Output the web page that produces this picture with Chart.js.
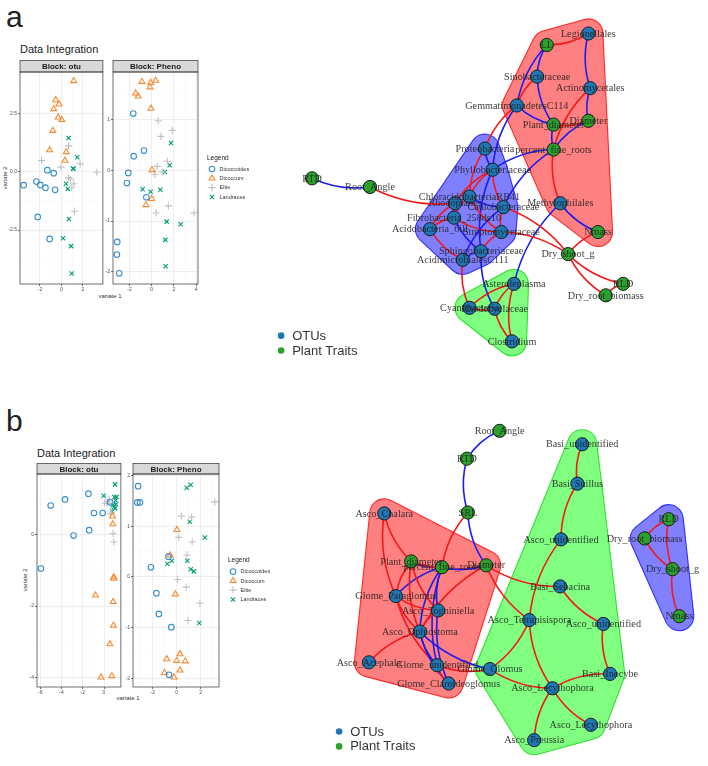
<!DOCTYPE html>
<html>
<head>
<meta charset="utf-8">
<script src="https://cdn.jsdelivr.net/npm/chart.js@4.4.1/dist/chart.umd.min.js"></script>
<style>
body { margin: 0; background: #fff; }
#page { position: relative; width: 708px; height: 766px; overflow: hidden; font-family: "Liberation Sans", Arial, sans-serif; }
canvas { position: absolute; }
.txt { position: absolute; white-space: nowrap; color: #222; line-height: 1; }
.c { transform: translate(-50%, -50%); }
.rot { transform: translate(-50%, -50%) rotate(-90deg); }
</style>
</head>
<body>
<div id="page">
  <div class="txt" style="left:6px;top:2px;font-size:30px;">a</div>
  <div class="txt" style="left:6px;top:406px;font-size:30px;">b</div>

  <div class="txt" style="left:20px;top:44px;font-size:11px;color:#1a1a1a;">Data Integration</div>
  <div class="txt c" style="left:110px;top:296px;font-size:6px;color:#333;">variate 1</div>
  <div class="txt rot" style="left:5px;top:178px;font-size:6px;color:#333;">variate 2</div>

  <div class="txt" style="left:37px;top:448px;font-size:11px;color:#1a1a1a;">Data Integration</div>
  <div class="txt c" style="left:128px;top:698px;font-size:6px;color:#333;">variate 1</div>
  <div class="txt rot" style="left:25px;top:580px;font-size:6px;color:#333;">variate 2</div>

  <canvas id="aOtu"></canvas>
  <canvas id="aPheno"></canvas>
  <canvas id="bOtu"></canvas>
  <canvas id="bPheno"></canvas>
  <canvas id="aNet"></canvas>
  <canvas id="bNet"></canvas>
</div>
<script>
// ---------- scatter data (sample plots, variate 1 / variate 2) ----------
const varieties = ['Dicoccoides', 'Dicoccum', 'Elite', 'Landraces'];

const aOtuDicoccoides = [[-3.52,-0.58],[-2.33,-0.43],[-1.97,-0.57],[-1.49,-0.69],[-1.31,0.06],[-0.72,-0.07],[-0.59,-0.78],[-2.21,-1.94],[-1.10,-2.88]];
const aOtuDicoccum = [[1.14,3.88],[-0.54,3.06],[-0.23,2.88],[-0.72,2.68],[-0.30,2.32],[0.03,2.22],[-0.81,1.75],[-1.10,0.92],[0.45,0.84],[0.33,0.47]];
const aOtuElite = [[-1.85,0.47],[0.66,1.10],[-0.05,0.19],[1.74,0.33],[3.29,-0.03],[0.66,-0.27],[0.84,-0.32],[1.14,-0.52],[0.96,-0.69],[1.20,-1.70]];
const aOtuLandraces = [[0.66,1.44],[1.47,0.61],[1.08,0.13],[1.12,0.12],[0.42,-0.52],[0.60,-0.74],[0.69,-2.03],[0.15,-2.85],[0.90,-3.19],[0.96,-4.36]];

const aPhenoDicoccoides = [[-1.66,1.12],[-1.62,0.28],[-0.69,0.39],[-2.10,-0.05],[-2.23,-0.25],[-0.48,-0.53],[-3.10,-1.41],[-3.13,-1.66],[-2.92,-2.03]];
const aPhenoDicoccum = [[-0.87,1.75],[-0.09,1.73],[0.36,1.77],[-0.15,1.64],[-1.44,1.52],[-1.21,1.46],[-0.06,1.22],[0.03,0.01],[0.00,-0.56],[-0.51,-0.68]];
const aPhenoElite = [[0.59,0.98],[1.86,0.79],[0.84,0.67],[1.41,0.18],[0.50,0.08],[0.95,-0.03],[0.30,-0.08],[1.50,-0.70],[0.41,-0.84],[3.81,-0.84]];
const aPhenoLandraces = [[1.74,0.54],[1.62,0.10],[1.20,-0.03],[-0.81,-0.37],[-0.09,-0.42],[0.78,-0.38],[1.35,-1.01],[2.61,-1.06],[1.23,-1.37],[1.26,-1.89]];

const bOtuDicoccoides = [[-5.94,-0.95],[-5.02,0.81],[-3.67,0.98],[-1.47,1.14],[-0.95,0.60],[-0.12,0.60],[-1.40,0.12],[-2.87,-0.03],[0.58,0.90]];
const bOtuDicoccum = [[0.80,0.51],[0.83,0.29],[0.92,-1.19],[0.90,-1.23],[-0.80,-1.70],[0.86,-1.88],[0.89,-2.54],[0.55,-3.06],[0.73,-3.95],[-0.28,-3.99]];
const bOtuElite = [[0.06,0.88],[0.28,0.87],[0.49,0.98],[0.61,0.57],[0.85,0.03],[0.92,-0.21],[0.67,0.63],[0.40,0.92]];
const bOtuLandraces = [[1.04,1.40],[-0.03,1.08],[0.98,1.05],[1.19,1.05],[0.83,0.82],[1.13,0.85],[1.04,0.73],[0.76,0.65],[0.94,0.77],[1.10,0.95]];

const bPhenoDicoccoides = [[-3.22,1.79],[-3.28,1.47],[-3.06,1.47],[-0.69,0.40],[-2.15,0.19],[-1.69,-0.32],[-1.49,-0.73],[-0.45,-0.99],[-0.64,-1.93]];
const bPhenoDicoccum = [[0.02,0.93],[-0.55,0.43],[-0.11,-0.34],[0.27,-1.52],[-0.83,-1.62],[0.00,-1.65],[0.71,-1.66],[0.27,-1.84],[-1.02,-1.89],[-0.22,-1.98]];
const bPhenoElite = [[3.17,1.48],[0.38,1.20],[1.24,1.18],[0.17,0.78],[1.29,0.69],[0.85,0.43],[0.08,-0.05],[0.79,-0.20],[1.93,-0.52],[0.93,-0.86]];
const bPhenoLandraces = [[0.83,1.76],[1.16,1.82],[1.10,1.09],[2.34,0.78],[0.88,0.32],[-0.41,0.32],[-0.78,0.26],[1.16,0.15],[1.43,0.11],[1.87,-0.91]];

// tick labels and axis limits of each facet
const aOtuXTicks = [-2, 0, 2],      aOtuYTicks = [-2.5, 0, 2.5];
const aPhenoXTicks = [-2, 0, 2, 4], aPhenoYTicks = [-2, -1, 0, 1];
const bOtuXTicks = [-6, -4, -2, 0], bOtuYTicks = [-4, -2, 0];
const bPhenoXTicks = [-2, 0, 2],    bPhenoYTicks = [-2, -1, 0, 1, 2];
const aOtuXRange = [-3.86, 3.86],   aOtuYRange = [-4.81, 4.26];
const aPhenoXRange = [-3.48, 4.17], aPhenoYRange = [-2.24, 1.94];
const bOtuXRange = [-6.31, 1.59],   bOtuYRange = [-4.26, 1.69];
const bPhenoXRange = [-3.64, 3.52], bPhenoYRange = [-2.17, 2.03];

// ---------- network data (layout positions, edges, clusters) ----------
const aNodeName = ['RTD','Root_Angle','Legionellales','LL','Sinobacteraceae','Actinomycetales','GemmatimonadetesC114','Plant_diameter','Diameter','percent_fine_roots','Proteobacteria','Phyllobacteriaceae','ChloracidobacteriaRB41','Rhodoplanes','Caulobacteraceae','Fibrobacteria_258ds10','Acidobacteria_6ill','Streptomycetaceae','Sphingobacteriaceae','AcidimicrobialesC111','Methylophilales','Nmass','Dry_shoot_g','RLD','Dry_root_biomass','Asteroleplasma','Cyanobacteria','Rhodocyclaceae','Clostridium'];
const aNodeX = [306,366,592,549,539,594,518,556,592,556,485,493,469,454,504,453,428,502,481,462,563,602,571,628,610,515,469,495,513];
const aNodeY = [178,187,27,39,72,84,102,122,118,148,147,169,197,204,208,219,231,234,254,263,204,234,257,288,300,288,313,314,348];
const aNodeIsOtu = [0,0,1,0,1,1,1,0,0,0,1,1,1,1,1,1,1,1,1,1,1,0,0,0,0,1,1,1,1];
const aEdges = [
  ['RTD','Root_Angle',-1],['Root_Angle','Rhodoplanes',1],['LL','Legionellales',1],['LL','Sinobacteraceae',-1],
  ['LL','GemmatimonadetesC114',-1],['Sinobacteraceae','GemmatimonadetesC114',1],['Sinobacteraceae','Plant_diameter',-1],
  ['Legionellales','Actinomycetales',-1],['Actinomycetales','Diameter',-1],['Actinomycetales','percent_fine_roots',1],
  ['GemmatimonadetesC114','Plant_diameter',-1],['GemmatimonadetesC114','Proteobacteria',1],['GemmatimonadetesC114','Phyllobacteriaceae',-1],
  ['Plant_diameter','Diameter',1],['Plant_diameter','percent_fine_roots',-1],['Diameter','percent_fine_roots',-1],
  ['percent_fine_roots','Phyllobacteriaceae',-1],['percent_fine_roots','Caulobacteraceae',-1],['percent_fine_roots','Methylophilales',1],
  ['Methylophilales','Nmass',-1],['Methylophilales','Asteroleplasma',-1],['Nmass','Dry_shoot_g',1],['Dry_shoot_g','RLD',1],
  ['Dry_shoot_g','Dry_root_biomass',1],['RLD','Dry_root_biomass',1],['Dry_shoot_g','Streptomycetaceae',1],['Dry_shoot_g','Caulobacteraceae',1],
  ['Proteobacteria','Phyllobacteriaceae',-1],['Proteobacteria','ChloracidobacteriaRB41',1],['Phyllobacteriaceae','ChloracidobacteriaRB41',1],
  ['Phyllobacteriaceae','Caulobacteraceae',1],['Phyllobacteriaceae','Rhodoplanes',1],['Phyllobacteriaceae','Sphingobacteriaceae',-1],
  ['ChloracidobacteriaRB41','Caulobacteraceae',-1],['ChloracidobacteriaRB41','Fibrobacteria_258ds10',1],['ChloracidobacteriaRB41','Streptomycetaceae',1],
  ['Rhodoplanes','Fibrobacteria_258ds10',1],['Rhodoplanes','Acidobacteria_6ill',1],['Fibrobacteria_258ds10','Acidobacteria_6ill',1],
  ['Fibrobacteria_258ds10','Streptomycetaceae',1],['Fibrobacteria_258ds10','Sphingobacteriaceae',-1],['Acidobacteria_6ill','AcidimicrobialesC111',1],
  ['Caulobacteraceae','Streptomycetaceae',1],['Caulobacteraceae','AcidimicrobialesC111',-1],['Streptomycetaceae','Sphingobacteriaceae',1],
  ['Sphingobacteriaceae','AcidimicrobialesC111',-1],['Sphingobacteriaceae','Rhodocyclaceae',-1],['AcidimicrobialesC111','Cyanobacteria',1],
  ['Asteroleplasma','Cyanobacteria',1],['Asteroleplasma','Rhodocyclaceae',1],['Asteroleplasma','Clostridium',1],
  ['Cyanobacteria','Rhodocyclaceae',1],['Rhodocyclaceae','Clostridium',1]
];
const aClusterRed = ['Legionellales','LL','Sinobacteraceae','Actinomycetales','GemmatimonadetesC114','Plant_diameter','Diameter','percent_fine_roots','Methylophilales','Nmass'];
const aClusterBlue = ['Proteobacteria','Phyllobacteriaceae','ChloracidobacteriaRB41','Rhodoplanes','Caulobacteraceae','Fibrobacteria_258ds10','Acidobacteria_6ill','Streptomycetaceae','Sphingobacteriaceae','AcidimicrobialesC111'];
const aClusterGreen = ['Asteroleplasma','Cyanobacteria','Rhodocyclaceae','Clostridium'];

const bNodeName = ['Root_Angle','RTD','SRL','Asco_Chalara','Plant_diameter','percent_fine_roots','Diameter','Basi_unidentified','Basi_Suillus','Asco_unidentified','RLD','Dry_root_biomass','Dry_shoot_g','Nmass','Basi_Sebacina','Asco_Tetrapisispora','Asco_unidentified#2','Glome_Paraglomus','Asco_Togniniella','Asco_Ophiostoma','Asco_Acephala','Glome_unidentified','Glome_Glomus','Glome_Claroideoglomus','Basi_Inocybe','Asco_Lecythophora','Asco_Lecythophora#2','Asco_Preussia'];
const bNodeX = [499,465,466,379,407,439,485,585,580,563,675,650,679,686,562,530,607,391,435,416,363,434,489,446,614,554,594,535];
const bNodeY = [425,454,510,511,561,567,565,439,480,538,517,537,569,618,587,622,626,597,612,634,666,669,673,688,678,693,731,747];
const bNodeIsOtu = [0,0,0,1,0,0,0,1,1,1,0,0,0,0,1,1,1,1,1,1,1,1,1,1,1,1,1,1];
const bEdges = [
  ['Root_Angle','RTD',-1],['RTD','SRL',-1],['SRL','Diameter',-1],['SRL','percent_fine_roots',1],['Asco_Chalara','Plant_diameter',1],
  ['Plant_diameter','percent_fine_roots',-1],['Plant_diameter','Diameter',1],['percent_fine_roots','Diameter',-1],
  ['Diameter','Basi_Sebacina',1],['Diameter','Asco_Tetrapisispora',1],['Diameter','Asco_Ophiostoma',1],['Plant_diameter','Glome_Paraglomus',1],
  ['percent_fine_roots','Glome_Paraglomus',-1],['percent_fine_roots','Asco_Ophiostoma',-1],['percent_fine_roots','Asco_Togniniella',-1],
  ['percent_fine_roots','Glome_unidentified',-1],['Plant_diameter','Asco_Togniniella',1],['Plant_diameter','Asco_Ophiostoma',1],
  ['Glome_Paraglomus','Asco_Togniniella',1],['Glome_Paraglomus','Asco_Ophiostoma',1],['Glome_Paraglomus','Glome_unidentified',1],
  ['Asco_Togniniella','Glome_Claroideoglomus',-1],['Asco_Togniniella','Asco_Ophiostoma',1],['Asco_Ophiostoma','Glome_unidentified',-1],
  ['Asco_Ophiostoma','Glome_Claroideoglomus',-1],['Asco_Ophiostoma','Glome_Glomus',-1],['Asco_Ophiostoma','Asco_Acephala',1],
  ['Glome_unidentified','Glome_Claroideoglomus',1],['Glome_unidentified','Glome_Glomus',1],['Glome_Glomus','Asco_Tetrapisispora',1],
  ['Glome_Glomus','Asco_Lecythophora',1],['Asco_unidentified','Asco_Tetrapisispora',1],['Asco_Tetrapisispora','Asco_Lecythophora',1],
  ['Basi_Sebacina','Asco_unidentified#2',1],['Asco_unidentified#2','Basi_Inocybe',1],['Basi_Inocybe','Asco_Lecythophora',1],
  ['Asco_Lecythophora','Asco_Lecythophora#2',1],['Asco_Lecythophora','Asco_Preussia',1],['Basi_unidentified','Basi_Suillus',1],
  ['Basi_Suillus','Asco_unidentified',1],['RLD','Dry_root_biomass',1],['RLD','Dry_shoot_g',1],['Dry_root_biomass','Dry_shoot_g',1],
  ['Dry_shoot_g','Nmass',1],['Asco_Chalara','Glome_Paraglomus',1]
];
const bClusterRed = ['Asco_Chalara','Plant_diameter','percent_fine_roots','Diameter','Glome_Paraglomus','Asco_Togniniella','Asco_Ophiostoma','Asco_Acephala','Glome_unidentified','Glome_Claroideoglomus'];
const bClusterGreen = ['Basi_unidentified','Basi_Suillus','Asco_unidentified','Basi_Sebacina','Asco_Tetrapisispora','Asco_unidentified#2','Glome_Glomus','Basi_Inocybe','Asco_Lecythophora','Asco_Lecythophora#2','Asco_Preussia'];
const bClusterBlue = ['RLD','Dry_root_biomass','Dry_shoot_g','Nmass'];

// ---------- styles ----------
const SANS = '"Liberation Sans", Arial, sans-serif';
const SERIF = '"Liberation Serif", "DejaVu Serif", serif';
const varietyStyle = [
  { pointStyle: 'circle',   color: '#388ECC', radius: 2.8 },
  { pointStyle: 'triangle', color: '#F68B33', radius: 3.4 },
  { pointStyle: 'cross',    color: '#C2C2C2', radius: 3.6 },
  { pointStyle: 'crossRot', color: '#009E73', radius: 3.0 }
];

function allTicks(major, range) {
  const h = (major[1] - major[0]) / 2;
  const out = [];
  let v = major[0] - Math.floor((major[0] - range[0]) / h) * h;
  for (; v <= range[1] + 1e-9; v += h) out.push(Math.round(v * 1000) / 1000);
  return out;
}
function isMajor(v, major) {
  const step = major[1] - major[0];
  const k = (v - major[0]) / step;
  return Math.abs(k - Math.round(k)) < 1e-6;
}

// strip, panel border and legend of a facet
const facetDecor = {
  id: 'facetDecor',
  afterDraw(chart, args, opts) {
    const { ctx, chartArea: a } = chart;
    ctx.save();
    ctx.fillStyle = '#d9d9d9';
    ctx.fillRect(a.left, 0.5, a.right - a.left, a.top - 0.5);
    ctx.strokeStyle = '#333';
    ctx.lineWidth = 0.7;
    ctx.strokeRect(a.left, 0.5, a.right - a.left, a.top - 0.5);
    ctx.fillStyle = '#1a1a1a';
    ctx.font = 'bold 8px ' + SANS;
    ctx.textAlign = 'center';
    ctx.textBaseline = 'middle';
    ctx.fillText(opts.title, (a.left + a.right) / 2, a.top / 2 + 0.8);
    ctx.strokeRect(a.left, a.top, a.right - a.left, a.bottom - a.top);

    if (opts.legend) {
      const mid = (a.top + a.bottom) / 2;
      const lx = a.right + 9;
      ctx.textAlign = 'left';
      ctx.fillStyle = '#1a1a1a';
      ctx.font = '6.5px ' + SANS;
      ctx.fillText('Legend', lx, mid - 20);
      chart.data.datasets.forEach((ds, i) => {
        const y = mid - 9 + i * 9.3;
        ctx.strokeStyle = ds.borderColor;
        ctx.fillStyle = 'rgba(0,0,0,0)';
        ctx.lineWidth = 1.1;
        Chart.helpers.drawPoint(ctx, { pointStyle: ds.pointStyle, radius: ds.pointRadius, borderWidth: 1.1, rotation: 0 }, lx + 5, y);
        ctx.fillStyle = '#333';
        ctx.font = '5.5px ' + SANS;
        ctx.fillText(ds.label, lx + 12.5, y + 0.3);
      });
    }
    ctx.restore();
  }
};

function facet(id, box, title, groups, xr, yr, xt, yt, yDec, legend) {
  const cv = document.getElementById(id);
  const rightPad = legend ? 75 : 3;
  cv.width = box.r - box.l + 17 + rightPad;
  cv.height = box.b - box.st + 9;
  cv.style.left = (box.l - 17) + 'px';
  cv.style.top = box.st + 'px';

  const axis = (range, major, dec, isX) => ({
    type: 'linear',
    min: range[0],
    max: range[1],
    afterBuildTicks: s => { s.ticks = allTicks(major, range).map(v => ({ value: v })); },
    afterFit: s => {
      if (isX) s.height = 9; else s.width = 17;
      s.paddingLeft = s.paddingRight = s.paddingTop = s.paddingBottom = 0;
    },
    border: { display: false },
    grid: {
      color: c => isMajor(c.tick.value, major) ? '#e6e6e6' : '#f3f3f3',
      lineWidth: c => isMajor(c.tick.value, major) ? 0.7 : 0.4,
      tickColor: c => isMajor(c.tick.value, major) ? '#333' : 'rgba(0,0,0,0)',
      tickLength: 2,
      drawTicks: true
    },
    ticks: {
      autoSkip: false,
      maxRotation: 0,
      padding: 1,
      font: { size: 5, family: SANS },
      color: '#4d4d4d',
      callback: v => isMajor(v, major) ? v.toFixed(dec) : ''
    }
  });

  return new Chart(cv, {
    type: 'scatter',
    data: {
      datasets: groups.map((g, i) => ({
        label: varieties[i],
        data: g.map(p => ({ x: p[0], y: p[1] })),
        pointStyle: varietyStyle[i].pointStyle,
        pointRadius: varietyStyle[i].radius,
        borderColor: varietyStyle[i].color,
        backgroundColor: 'rgba(0,0,0,0)',
        borderWidth: 1.1
      }))
    },
    options: {
      responsive: false,
      animation: false,
      events: [],
      layout: { padding: { top: box.t - box.st, right: rightPad, left: 0, bottom: 0 } },
      scales: { x: axis(xr, xt, 0, true), y: axis(yr, yt, yDec, false) },
      plugins: { legend: { display: false }, tooltip: { enabled: false }, facetDecor: { title: title, legend: legend } }
    },
    plugins: [facetDecor]
  });
}

facet('aOtu',   { l: 20, r: 105, st: 60, t: 72, b: 284 }, 'Block: otu',
      [aOtuDicoccoides, aOtuDicoccum, aOtuElite, aOtuLandraces], aOtuXRange, aOtuYRange, aOtuXTicks, aOtuYTicks, 1, false);
facet('aPheno', { l: 113, r: 198, st: 60, t: 72, b: 284 }, 'Block: Pheno',
      [aPhenoDicoccoides, aPhenoDicoccum, aPhenoElite, aPhenoLandraces], aPhenoXRange, aPhenoYRange, aPhenoXTicks, aPhenoYTicks, 0, true);
facet('bOtu',   { l: 37, r: 123, st: 463, t: 474, b: 687 }, 'Block: otu',
      [bOtuDicoccoides, bOtuDicoccum, bOtuElite, bOtuLandraces], bOtuXRange, bOtuYRange, bOtuXTicks, bOtuYTicks, 0, false);
facet('bPheno', { l: 133, r: 219, st: 463, t: 474, b: 687 }, 'Block: Pheno',
      [bPhenoDicoccoides, bPhenoDicoccum, bPhenoElite, bPhenoLandraces], bPhenoXRange, bPhenoYRange, bPhenoXTicks, bPhenoYTicks, 0, true);

// ---------- network ----------
const OTU_COLOR = '#1f77b4', TRAIT_COLOR = '#2ca02c';
const clusterStyle = {
  red:   { fill: '#ff8080', line: '#ff2a2a' },
  blue:  { fill: '#8080ff', line: '#3030ff' },
  green: { fill: '#80ff80', line: '#30e030' }
};

function convexHull(pts) {
  pts = pts.slice().sort((a, b) => a[0] - b[0] || a[1] - b[1]);
  const cross = (o, a, b) => (a[0] - o[0]) * (b[1] - o[1]) - (a[1] - o[1]) * (b[0] - o[0]);
  const lo = [], up = [];
  for (const p of pts) { while (lo.length >= 2 && cross(lo[lo.length - 2], lo[lo.length - 1], p) <= 0) lo.pop(); lo.push(p); }
  for (const p of pts.slice().reverse()) { while (up.length >= 2 && cross(up[up.length - 2], up[up.length - 1], p) <= 0) up.pop(); up.push(p); }
  return lo.slice(0, -1).concat(up.slice(0, -1));
}

const netDecor = {
  id: 'netDecor',
  beforeDatasetsDraw(chart, args, opts) {
    const { ctx } = chart;
    const sx = chart.scales.x, sy = chart.scales.y;
    const pos = name => {
      const i = opts.names.indexOf(name);
      return [sx.getPixelForValue(opts.xs[i]), sy.getPixelForValue(opts.ys[i])];
    };
    ctx.save();
    // clusters
    opts.clusters.forEach(cl => {
      const h = convexHull(cl.members.map(pos));
      const st = clusterStyle[cl.color];
      ctx.beginPath();
      h.forEach((p, k) => k ? ctx.lineTo(p[0], p[1]) : ctx.moveTo(p[0], p[1]));
      ctx.closePath();
      ctx.lineJoin = 'round';
      ctx.lineCap = 'round';
      ctx.strokeStyle = st.line;
      ctx.lineWidth = 2 * opts.pad + 2.2;
      ctx.stroke();
      ctx.strokeStyle = st.fill;
      ctx.lineWidth = 2 * opts.pad;
      ctx.stroke();
      ctx.fillStyle = st.fill;
      ctx.fill();
    });
    // edges, slightly curved
    opts.edges.forEach(e => {
      const p = pos(e[0]), q = pos(e[1]);
      const dx = q[0] - p[0], dy = q[1] - p[1];
      const cx = (p[0] + q[0]) / 2 - dy * 0.15, cy = (p[1] + q[1]) / 2 + dx * 0.15;
      ctx.beginPath();
      ctx.moveTo(p[0], p[1]);
      ctx.quadraticCurveTo(cx, cy, q[0], q[1]);
      ctx.strokeStyle = e[2] > 0 ? '#f41818' : '#1c1cf0';
      ctx.lineWidth = 1.6;
      ctx.stroke();
    });
    ctx.restore();
  },
  afterDatasetsDraw(chart, args, opts) {
    const { ctx } = chart;
    const sx = chart.scales.x, sy = chart.scales.y;
    ctx.save();
    ctx.font = '10.2px ' + SERIF;
    ctx.fillStyle = 'rgba(30,30,30,0.88)';
    ctx.textAlign = 'center';
    ctx.textBaseline = 'middle';
    opts.names.forEach((n, i) => {
      ctx.fillText(n.replace(/#\d+$/, ''), sx.getPixelForValue(opts.xs[i]), sy.getPixelForValue(opts.ys[i]) + 0.5);
    });
    // legend, anchored in layout coordinates
    const lx = sx.getPixelForValue(opts.legendAt[0]);
    ctx.font = '13px ' + SANS;
    ctx.textAlign = 'left';
    chart.data.datasets.forEach((ds, i) => {
      const y = sy.getPixelForValue(opts.legendAt[1] + i * 15.5);
      ctx.beginPath();
      ctx.arc(lx, y, 3.3, 0, Math.PI * 2);
      ctx.fillStyle = ds.backgroundColor;
      ctx.fill();
      ctx.fillStyle = '#333';
      ctx.fillText(ds.label, lx + 11, y + 0.5);
    });
    ctx.restore();
  }
};

function network(id, frame, names, xs, ys, isOtu, edges, clusters, legendAt) {
  const cv = document.getElementById(id);
  cv.width = frame.w; cv.height = frame.h;
  cv.style.left = frame.l + 'px'; cv.style.top = frame.t + 'px';
  const pts = flag => names.map((n, i) => ({ x: xs[i], y: ys[i], on: isOtu[i] === flag })).filter(p => p.on);
  return new Chart(cv, {
    type: 'scatter',
    data: {
      datasets: [
        { label: 'OTUs', data: pts(1), backgroundColor: OTU_COLOR, borderColor: '#1a1a1a', borderWidth: 1, pointRadius: 6.6 },
        { label: 'Plant Traits', data: pts(0), backgroundColor: TRAIT_COLOR, borderColor: '#1a1a1a', borderWidth: 1, pointRadius: 6.6 }
      ]
    },
    options: {
      responsive: false,
      animation: false,
      events: [],
      layout: { padding: 0 },
      scales: {
        x: { type: 'linear', display: false, min: frame.l, max: frame.l + frame.w },
        y: { type: 'linear', display: false, reverse: true, min: frame.t, max: frame.t + frame.h }
      },
      plugins: {
        legend: { display: false },
        tooltip: { enabled: false },
        netDecor: { names: names, xs: xs, ys: ys, edges: edges, clusters: clusters, pad: 14, legendAt: legendAt }
      }
    },
    plugins: [netDecor]
  });
}

network('aNet', { l: 260, t: 0, w: 448, h: 372 }, aNodeName, aNodeX, aNodeY, aNodeIsOtu, aEdges,
  [{ members: aClusterRed, color: 'red' }, { members: aClusterBlue, color: 'blue' }, { members: aClusterGreen, color: 'green' }],
  [274, 342]);
network('bNet', { l: 320, t: 380, w: 388, h: 386 }, bNodeName, bNodeX, bNodeY, bNodeIsOtu, bEdges,
  [{ members: bClusterRed, color: 'red' }, { members: bClusterGreen, color: 'green' }, { members: bClusterBlue, color: 'blue' }],
  [332, 738]);
</script>
</body>
</html>
